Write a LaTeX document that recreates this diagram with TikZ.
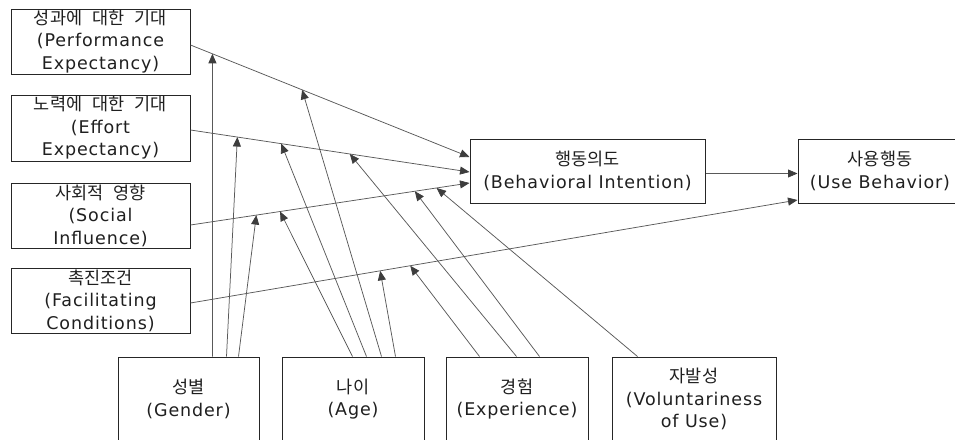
\documentclass[tikz,border=0pt]{standalone}
\usepackage{fontspec}
\setmainfont{DejaVu Sans}[LetterSpace=5]
\newfontfamily\korfont{Noto Sans CJK KR}[WordSpace=2.6]
\usetikzlibrary{arrows.meta}
\newcommand\kor[1]{{\fontsize{17.5}{22.5}\korfont #1}}
\definecolor{linegray}{HTML}{595959}
\definecolor{boxline}{HTML}{262626}
\definecolor{headgray}{HTML}{3d3d3d}
\definecolor{textdark}{HTML}{1f1f1f}
\begin{document}
\begin{tikzpicture}[x=1pt,y=-1pt,
  box/.style={draw=boxline, line width=1pt, align=center, inner sep=0pt,
    font=\fontsize{17.5}{22.5}\selectfont, text=textdark},
  leftbox/.style={box, minimum width=179pt, minimum height=65pt},
  botbox/.style={box, minimum height=84pt},
  conn/.style={draw=linegray, line width=0.75pt,
    -{Triangle[length=9.5pt,width=8pt,color=headgray]}}]
\useasboundingbox (0,0) rectangle (955,439);
\clip (0,0) rectangle (955,439);

% construct boxes
\node[leftbox] (pe) at (100.5,41.5) {\kor{성과에 대한 기대}\\(Performance\\Expectancy)};
\node[leftbox, minimum height=66pt] (ee) at (100.5,128) {\kor{노력에 대한 기대}\\(Effort\\Expectancy)};
\node[leftbox] (si) at (100.5,215.5) {\kor{사회적 영향}\\(Social\\Influence)};
\node[leftbox] (fc) at (100.5,300.5) {\kor{촉진조건}\\(Facilitating\\Conditions)};
\node[box, minimum width=235pt, minimum height=64pt] (bi) at (587.5,171) {\kor{행동의도}\\(Behavioral Intention)};
\node[box, minimum width=164pt, minimum height=64pt] (ub) at (880,171) {\kor{사용행동}\\(Use Behavior)};

% moderator boxes
\node[botbox, minimum width=141pt] (gender) at (188.5,399) {\kor{성별}\\(Gender)};
\node[botbox, minimum width=142pt] (age) at (353,399) {\kor{나이}\\(Age)};
\node[botbox, minimum width=142pt] (exp) at (517,399) {\kor{경험}\\(Experience)};
\node[botbox, minimum width=164pt] (vol) at (694,399) {\kor{자발성}\\(Voluntariness\\of Use)};

% main paths
\draw[conn] ([yshift=-3.5pt]pe.east) -- coordinate[pos=0.0786] (pe1) coordinate[pos=0.40] (pe2) ([yshift=14pt]bi.west);
\draw[conn] ([yshift=-2pt]ee.east) -- coordinate[pos=0.168] (ee1) coordinate[pos=0.325] (ee2) coordinate[pos=0.571] (ee3) ([yshift=-1pt]bi.west);
\draw[conn] ([yshift=-9.5pt]si.east) -- coordinate[pos=0.236] (si1) coordinate[pos=0.321] (si2) coordinate[pos=0.804] (si3) coordinate[pos=0.882] (si4) ([yshift=-12pt]bi.west);
\draw[conn] ([yshift=-2.5pt]fc.east) -- coordinate[pos=0.3125] (fc1) coordinate[pos=0.362] (fc2) ([yshift=-29pt]ub.west);
\draw[conn] ([yshift=-2.5pt]bi.east) -- ([yshift=-2.5pt]ub.west);

% moderating effects
\draw[conn] ([xshift=95pt]gender.north west) -- (pe1);
\draw[conn] ([xshift=109pt]gender.north west) -- (ee1);
\draw[conn] ([xshift=121pt]gender.north west) -- (si1);
\draw[conn] ([xshift=71pt]age.north west) -- (si2);
\draw[conn] ([xshift=85pt]age.north west) -- (ee2);
\draw[conn] ([xshift=100pt]age.north west) -- (pe2);
\draw[conn] ([xshift=114pt]age.north west) -- (fc1);
\draw[conn] ([xshift=34pt]exp.north west) -- (fc2);
\draw[conn] ([xshift=71pt]exp.north west) -- (ee3);
\draw[conn] ([xshift=94pt]exp.north west) -- (si3);
\draw[conn] ([xshift=26pt]vol.north west) -- (si4);
\end{tikzpicture}
\end{document}
